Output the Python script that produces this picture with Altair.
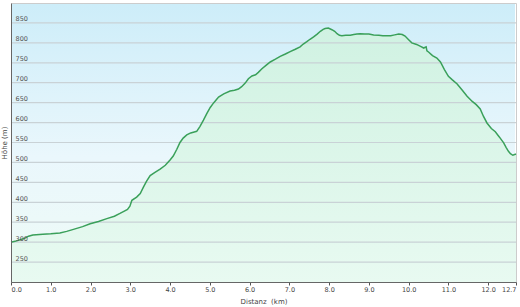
import altair as alt
import pandas as pd

dist_km = [0, 0.1, 0.23, 0.35, 0.44, 0.55, 0.8, 1.0, 1.23, 1.4, 1.57, 1.8, 1.99, 2.2, 2.41, 2.6,
           2.74, 2.85, 2.93, 2.99, 3.04, 3.16, 3.25, 3.33, 3.41, 3.5, 3.62, 3.75, 3.88, 4.0, 4.08,
           4.17, 4.25, 4.33, 4.42, 4.52, 4.63, 4.67, 4.75, 4.84, 4.92, 5.01, 5.1, 5.22, 5.35, 5.51,
           5.62, 5.72, 5.8, 5.89, 5.97, 6.06, 6.15, 6.22, 6.31, 6.42, 6.52, 6.65, 6.77, 6.9, 7.02,
           7.15, 7.27, 7.35, 7.44, 7.52, 7.61, 7.7, 7.78, 7.85, 7.9, 7.98, 8.07, 8.14, 8.2, 8.26,
           8.32, 8.42, 8.53, 8.62, 8.7, 8.78, 8.9, 9.0, 9.12, 9.25, 9.35, 9.45, 9.55, 9.65, 9.75,
           9.84, 9.91, 10.0, 10.08, 10.2, 10.3, 10.38, 10.44, 10.46, 10.5, 10.6, 10.71, 10.8, 10.9,
           11.0, 11.1, 11.22, 11.35, 11.47, 11.6, 11.7, 11.8, 11.88, 11.97, 12.08, 12.18, 12.28,
           12.39, 12.45, 12.51, 12.56, 12.62, 12.7]
elev_m = [300, 302, 306, 310, 315, 318, 320, 321, 323, 327, 332, 339, 346, 352, 359, 365,
          372, 378, 382, 390, 405, 413, 422, 438, 453, 467, 475, 483, 493, 506, 516,
          533, 550, 561, 569, 574, 577, 578, 590, 606, 622, 638, 650, 664, 672, 679,
          681, 684, 690, 699, 710, 717, 720, 726, 735, 744, 752, 759, 766, 772, 778,
          784, 790, 797, 803, 809, 815, 822, 829, 834, 836, 837, 833, 829, 823, 819,
          818, 819, 819, 821, 822, 823, 822, 822, 820, 819, 818, 818, 818, 820, 822,
          821, 817, 808, 800, 796, 791, 787, 790, 780, 777, 768, 762, 752, 733,
          716, 707, 697, 681, 666, 653, 645, 634, 616, 599, 585, 577, 564,
          549, 538, 528, 522, 518, 521]

x_ticks = [0, 1, 2, 3, 4, 5, 6, 7, 8, 9, 10, 11, 12, 12.7]
y_ticks = [250, 300, 350, 400, 450, 500, 550, 600, 650, 700, 750, 800, 850]

W, H = 505, 279
FONT = "DejaVu Sans"

df = pd.DataFrame({"km": dist_km, "m": elev_m})
grid_df = pd.DataFrame({"m": y_ticks})

xscale = alt.Scale(domain=[0, 12.7], nice=False, zero=False)
yscale = alt.Scale(domain=[200, 900], nice=False, zero=False)

xaxis = alt.Axis(values=x_ticks, format=".1f", title="Distanz \u00a0(km)",
                 grid=False, tickSize=3, tickColor="#555", domainColor="#666",
                 labelPadding=1, labelFontSize=6.5, labelColor="#444",
                 labelFlush=True, labelFont=FONT,
                 titleFont=FONT, titleFontSize=7, titleFontWeight="normal",
                 titleColor="#444", titleY=21, titleBaseline="alphabetic",
                 zindex=1)
yaxis = alt.Axis(values=y_ticks, title="Höhe (m)", grid=False, ticks=False,
                 tickSize=0, domainColor="#666", labelAlign="left",
                 labelPadding=-4, labelBaseline="alphabetic", labelOffset=-2,
                 labelFontSize=6.5, labelColor="#555", labelFont=FONT,
                 titleFont=FONT, titleFontSize=7, titleFontWeight="normal",
                 titleColor="#444", titleX=-4, titleY=H / 2,
                 titleBaseline="bottom", zindex=1)

bg_grad = alt.Gradient(
    gradient="linear",
    stops=[alt.GradientStop(color="#cdedf9", offset=0),
           alt.GradientStop(color="#eaf7fc", offset=0.55),
           alt.GradientStop(color="#eefbf6", offset=1)],
    x1=0, x2=0, y1=0, y2=1)
area_grad = alt.Gradient(
    gradient="linear",
    stops=[alt.GradientStop(color="#d0f2e2", offset=0),
           alt.GradientStop(color="#e8faf1", offset=1)],
    x1=0, x2=0, y1=0, y2=1)

bg = alt.Chart(alt.Data(values=[{"a": 1}])).mark_rect(color=bg_grad).encode(
    x=alt.value(0), x2=alt.value(W - 1), y=alt.value(1), y2=alt.value(H))

area = alt.Chart(df).mark_area(color=area_grad, clip=True).encode(
    x=alt.X("km:Q", scale=xscale, axis=xaxis),
    y=alt.Y("m:Q", scale=yscale, axis=yaxis, stack=None),
    y2=alt.datum(200),
)

grid = alt.Chart(grid_df).mark_rule(color="#c9d2d6", strokeWidth=1.2).encode(
    y=alt.Y("m:Q", scale=yscale, axis=yaxis))

line = alt.Chart(df).mark_line(color="#3aa05a", strokeWidth=1.5).encode(
    x=alt.X("km:Q", scale=xscale, axis=xaxis),
    y=alt.Y("m:Q", scale=yscale, axis=yaxis),
)

chart = alt.layer(bg, area, grid, line).properties(
    width=W, height=H,
    autosize=alt.AutoSizeParams(type="none"),
    padding={"left": 11, "top": 3, "right": 4, "bottom": 25},
    background="white",
).configure_view(stroke="#cccccc", strokeWidth=1)

chart.save("out.html", embed_options={"renderer": "svg", "actions": False})
